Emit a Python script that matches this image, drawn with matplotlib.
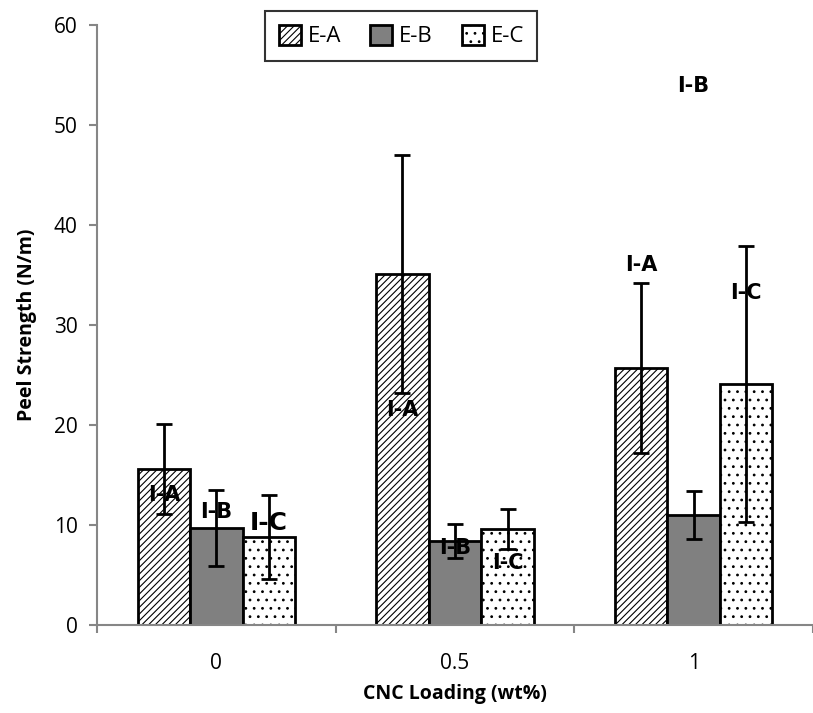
import numpy as np
import matplotlib.pyplot as plt

plt.rcParams['font.family'] = ['Open Sans', 'DejaVu Sans']
plt.rcParams['hatch.linewidth'] = 0.8

loadings = ['0', '0.5', '1']
series = ['E-A', 'E-B', 'E-C']
ea = [15.6, 35.1, 25.7]
eb = [9.7, 8.4, 11.0]
ec = [8.8, 9.6, 24.1]
ea_err = [4.5, 11.9, 8.5]
eb_err = [3.8, 1.7, 2.4]
ec_err = [4.2, 2.0, 13.8]

# text labels: group, series index, y, fontsize
labels = ['I-A', 'I-B', 'I-C', 'I-A', 'I-B', 'I-C', 'I-A', 'I-B', 'I-C']
label_grp = [0, 0, 0, 1, 1, 1, 2, 2, 2]
label_ser = [0, 1, 2, 0, 1, 2, 0, 1, 2]
label_y = [13.0, 11.3, 10.2, 21.5, 7.7, 6.2, 36.0, 53.9, 33.2]
label_fs = [15, 15, 18, 15, 15, 15, 15, 15, 15]

fig = plt.figure(figsize=(8.13, 7.13), dpi=100)
ax = fig.add_axes([97/813, 88/713, 716/813, 600/713])

x = np.arange(len(loadings))
w = 0.22
vals = [ea, eb, ec]
errs = [ea_err, eb_err, ec_err]
faces = ['white', '#808080', 'white']
hatches = ['/////', None, '..']

for i in range(3):
    ax.bar(x + (i - 1) * w, vals[i], w, color=faces[i], edgecolor='black',
           linewidth=2, hatch=hatches[i], label=series[i], zorder=2)
    ax.errorbar(x + (i - 1) * w, vals[i], yerr=errs[i], fmt='none',
                ecolor='black', elinewidth=2, capsize=6, capthick=2, zorder=3)

for t, g, s, yy, fs in zip(labels, label_grp, label_ser, label_y, label_fs):
    ax.text(x[g] + (s - 1) * w, yy, t, ha='center', va='center',
            fontsize=fs, fontweight='heavy', family='DejaVu Sans', zorder=4)

ax.set_xlim(-0.5, 2.5)
ax.set_ylim(0, 60)
ax.set_yticks(range(0, 61, 10))
ax.set_xticks(x)
ax.set_xticklabels(loadings)
ax.set_xticks([-0.5, 0.5, 1.5, 2.5], minor=True)
ax.tick_params(axis='x', which='major', length=0, pad=20, labelsize=15)
ax.tick_params(axis='x', which='minor', length=6, color='#868686', width=1.5)
ax.tick_params(axis='y', length=6, color='#868686', width=1.5, labelsize=15, pad=8)

for sp in ['top', 'right']:
    ax.spines[sp].set_visible(False)
for sp in ['left', 'bottom']:
    ax.spines[sp].set_color('#868686')
    ax.spines[sp].set_linewidth(1.5)

ax.set_xlabel('CNC Loading (wt%)', fontsize=14, fontweight='bold', labelpad=7)
ax.set_ylabel('Peel Strength (N/m)', fontsize=14, fontweight='bold', labelpad=12)

leg = ax.legend(loc='upper center', bbox_to_anchor=(0.425, 1.03), ncol=3,
                fontsize=16, frameon=True, fancybox=False, handlelength=1.0,
                handleheight=1.0, handletextpad=0.3, columnspacing=1.3,
                borderpad=0.6, borderaxespad=0.2)
leg.get_frame().set_edgecolor('black')
leg.get_frame().set_linewidth(1.5)

fig.savefig('out.png', dpi=100)
